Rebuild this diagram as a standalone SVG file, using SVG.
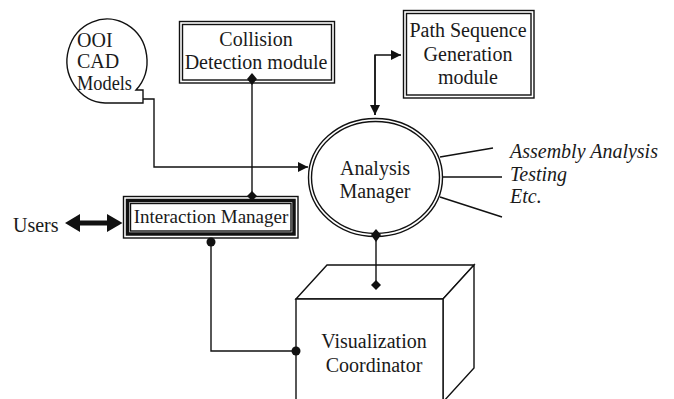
<svg xmlns="http://www.w3.org/2000/svg" width="674" height="399" viewBox="0 0 674 399">
<defs>
<style>
text{font-family:"Liberation Serif","Times New Roman",serif;font-size:20px;fill:#1a1a1a}
.it{font-style:italic}
.ln{fill:none;stroke:#111;stroke-width:1.4}
.sh{fill:#fff;stroke:#111;stroke-width:1.4}
.fill{fill:#111;stroke:none}
</style>
<marker id="arr" viewBox="0 0 10 10" refX="10" refY="5" markerWidth="10" markerHeight="11" markerUnits="userSpaceOnUse" orient="auto"><path d="M0,0 L10,5 L0,10 Z" fill="#111"/></marker>
</defs>
<rect width="674" height="399" fill="#fff"/>

<g id="ooi">
<path class="sh" d="M136,90 A40,42 0 1 0 105,103 L143,103 L143,90 Z"/>
<text x="77" y="47">OOI</text>
<text x="77" y="68">CAD</text>
<text x="77" y="90" textLength="55" lengthAdjust="spacingAndGlyphs">Models</text>
</g>

<g id="collision">
<rect class="sh" x="179.5" y="21.5" width="155" height="61.5"/>
<rect class="ln" x="182.5" y="24.5" width="149" height="55.5"/>
<text x="256" y="46" text-anchor="middle">Collision</text>
<text x="256" y="69" text-anchor="middle">Detection module</text>
</g>

<g id="pathseq">
<rect class="sh" x="403.5" y="10.5" width="130.5" height="87.5"/>
<rect class="ln" x="406.5" y="13.5" width="124.5" height="81.5"/>
<text x="468" y="37" text-anchor="middle">Path Sequence</text>
<text x="468" y="61" text-anchor="middle">Generation</text>
<text x="468" y="84" text-anchor="middle">module</text>
</g>

<g id="analysis">
<ellipse class="sh" cx="375.5" cy="177.5" rx="67" ry="59"/>
<ellipse class="ln" cx="375.5" cy="177.5" rx="64" ry="56"/>
<text x="375" y="175" text-anchor="middle">Analysis</text>
<text x="375" y="198" text-anchor="middle">Manager</text>
</g>

<g id="outputs">
<text class="it" x="510" y="158">Assembly Analysis</text>
<text class="it" x="510" y="181">Testing</text>
<text class="it" x="510" y="203">Etc.</text>
</g>

<g id="interaction">
<rect class="sh" x="123.5" y="196.5" width="174.5" height="41.5"/>
<rect fill="none" stroke="#111" stroke-width="3.5" x="127.5" y="200.5" width="166.5" height="33.5"/>
<rect class="ln" x="130.5" y="203.5" width="160.5" height="27.5"/>
<text x="211" y="223" text-anchor="middle" style="font-size:19px">Interaction Manager</text>
</g>

<g id="users">
<text x="13" y="232">Users</text>
</g>

<g id="visualization">
<path class="sh" d="M296,299 L327,265 L474,265 L443,299 Z"/>
<path class="sh" d="M443,299 L474,265 L474,368 L443,402 Z"/>
<path class="sh" d="M296,299 H443 V410 H296 Z"/>
<text x="374" y="348" text-anchor="middle">Visualization</text>
<text x="374" y="372" text-anchor="middle">Coordinator</text>
</g>

<g id="connectors">
<path class="ln" d="M143,99 H154 V167 H308" marker-end="url(#arr)"/>
<path class="ln" d="M252,83 V196"/>
<path class="ln" d="M375,115 V55 H401" marker-end="url(#arr)"/>
<path class="ln" d="M375,55 V115" marker-end="url(#arr)"/>
<path class="ln" d="M376,236 V285"/>
<path class="ln" d="M211,241 V351 H296"/>
<path class="ln" d="M440,157 L493,148 M442,177 H502 M440,197 L502,217"/>
<path class="fill" d="M252,73 L257,79 L252,85 L247,79 Z"/>
<path class="fill" d="M252,191 L257,196 L252,201 L247,196 Z"/>
<path class="fill" d="M376,229 L381,235 L376,242 L371,235 Z"/>
<path class="fill" d="M376,280 L381,285 L376,290 L371,285 Z"/>
<circle class="fill" cx="211" cy="242" r="4.5"/>
<circle class="fill" cx="296" cy="351" r="4.5"/>
<path class="fill" d="M65,223 L80,214 L80,220.5 L107,220.5 L107,214 L122.5,223 L107,232 L107,225.5 L80,225.5 L80,232 Z"/>
</g>
</svg>
